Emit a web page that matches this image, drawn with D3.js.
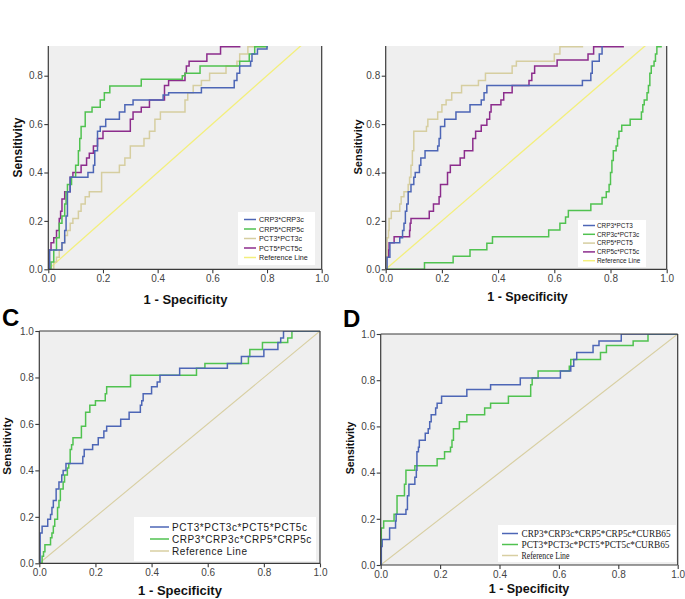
<!DOCTYPE html>
<html><head><meta charset="utf-8">
<script src="https://cdn.jsdelivr.net/npm/d3@7"></script>
<style>body{margin:0;background:#fff}svg{display:block}</style>
</head><body>
<svg id="chart" width="685" height="599"></svg>
<script>
// ---------- data ----------
const tickValues = [0, 0.2, 0.4, 0.6, 0.8, 1.0];
const refLine = [[0, 0], [1, 1]];

// Panel A
const aLabels = ["CRP3*CRP3c", "CRP5*CRP5c", "PCT3*PCT3c", "PCT5*PCT5c", "Reference Line"];
const aCRP3 = [[0,0],[0.005,0.08],[0.05,0.11],[0.06,0.16],[0.065,0.22],[0.07,0.32],[0.08,0.38],[0.145,0.40],[0.165,0.43],[0.17,0.49],[0.18,0.57],[0.19,0.59],[0.21,0.62],[0.26,0.65],[0.28,0.68],[0.31,0.70],[0.42,0.72],[0.44,0.73],[0.56,0.75],[0.68,0.78],[0.69,0.81],[0.70,0.84],[0.74,0.86],[0.745,0.89],[0.765,0.91],[0.8,0.93],[0.85,0.97],[0.9,1],[1,1]];
const aCRP5 = [[0,0],[0.01,0.03],[0.02,0.08],[0.03,0.13],[0.04,0.19],[0.05,0.22],[0.06,0.27],[0.065,0.32],[0.07,0.35],[0.085,0.38],[0.1,0.43],[0.11,0.49],[0.115,0.54],[0.12,0.59],[0.135,0.65],[0.16,0.67],[0.19,0.70],[0.205,0.73],[0.225,0.757],[0.34,0.785],[0.49,0.80],[0.5,0.81],[0.555,0.84],[0.7,0.86],[0.735,0.89],[0.755,0.92],[0.8,0.95],[0.9,1],[1,1]];
const aPCT3 = [[0,0],[0.02,0.03],[0.03,0.05],[0.04,0.08],[0.05,0.11],[0.06,0.14],[0.07,0.16],[0.08,0.19],[0.09,0.21],[0.11,0.24],[0.12,0.27],[0.135,0.30],[0.15,0.32],[0.195,0.40],[0.26,0.43],[0.28,0.46],[0.3,0.51],[0.35,0.54],[0.37,0.57],[0.39,0.62],[0.41,0.65],[0.5,0.70],[0.51,0.73],[0.53,0.76],[0.56,0.78],[0.59,0.81],[0.65,0.84],[0.69,0.86],[0.7,0.89],[0.73,0.92],[0.8,0.95],[0.9,1],[1,1]];
const aPCT5 = [[0,0],[0.003,0.08],[0.01,0.11],[0.02,0.13],[0.03,0.16],[0.04,0.21],[0.045,0.24],[0.05,0.29],[0.06,0.32],[0.08,0.38],[0.09,0.40],[0.12,0.43],[0.14,0.46],[0.15,0.48],[0.165,0.51],[0.18,0.54],[0.2,0.57],[0.3,0.62],[0.31,0.65],[0.34,0.67],[0.37,0.70],[0.425,0.76],[0.44,0.78],[0.5,0.81],[0.505,0.84],[0.515,0.86],[0.58,0.89],[0.63,0.92],[0.7,0.95],[0.8,1],[1,1]];

// Panel B
const bLabels = ["CRP3*PCT3", "CRP3c*PCT3c", "CRP5*PCT5", "CRP5c*PCT5c", "Reference Line"];
const bCRP3PCT3 = [[0,0],[0.005,0.05],[0.015,0.11],[0.05,0.13],[0.06,0.16],[0.065,0.19],[0.07,0.24],[0.075,0.27],[0.08,0.32],[0.09,0.35],[0.1,0.38],[0.105,0.40],[0.12,0.43],[0.125,0.46],[0.14,0.49],[0.185,0.51],[0.19,0.54],[0.195,0.59],[0.21,0.62],[0.25,0.65],[0.3,0.68],[0.34,0.70],[0.35,0.73],[0.36,0.76],[0.7,0.78],[0.73,0.81],[0.735,0.86],[0.76,0.89],[0.77,0.93],[0.85,1],[1,1]];
const bCRP3cPCT3c = [[0,0],[0.138,0.027],[0.24,0.054],[0.3,0.081],[0.36,0.108],[0.38,0.135],[0.58,0.162],[0.62,0.19],[0.64,0.216],[0.65,0.243],[0.73,0.27],[0.77,0.297],[0.785,0.32],[0.795,0.35],[0.8,0.40],[0.805,0.45],[0.81,0.49],[0.82,0.51],[0.825,0.54],[0.83,0.57],[0.84,0.595],[0.87,0.62],[0.91,0.65],[0.915,0.68],[0.92,0.70],[0.93,0.73],[0.935,0.76],[0.94,0.81],[0.945,0.84],[0.955,0.86],[0.96,0.89],[0.965,0.92],[0.98,0.97],[1,1]];
const bCRP5PCT5 = [[0,0],[0.002,0.05],[0.005,0.13],[0.01,0.16],[0.012,0.21],[0.02,0.24],[0.05,0.27],[0.055,0.30],[0.065,0.32],[0.08,0.35],[0.085,0.38],[0.09,0.43],[0.095,0.49],[0.1,0.57],[0.145,0.59],[0.15,0.62],[0.185,0.65],[0.2,0.68],[0.215,0.70],[0.235,0.73],[0.27,0.76],[0.33,0.78],[0.355,0.81],[0.45,0.84],[0.465,0.86],[0.6,0.89],[0.62,0.92],[0.7,0.96],[0.8,1],[1,1]];
const bCRP5cPCT5c = [[0,0],[0.002,0.05],[0.01,0.08],[0.012,0.11],[0.03,0.135],[0.085,0.16],[0.087,0.19],[0.09,0.21],[0.155,0.24],[0.17,0.27],[0.19,0.30],[0.195,0.35],[0.22,0.40],[0.23,0.43],[0.265,0.46],[0.28,0.49],[0.31,0.54],[0.32,0.57],[0.34,0.595],[0.36,0.62],[0.37,0.65],[0.375,0.68],[0.41,0.70],[0.42,0.73],[0.45,0.76],[0.51,0.78],[0.52,0.81],[0.53,0.84],[0.61,0.865],[0.72,0.89],[0.74,0.92],[0.845,0.95],[0.9,1],[1,1]];

// Panel C
const cLabels = ["PCT3*PCT3c*PCT5*PCT5c", "CRP3*CRP3c*CRP5*CRP5c", "Reference Line"];
const cPCT = [[0,0],[0.003,0.13],[0.01,0.16],[0.03,0.19],[0.04,0.21],[0.045,0.24],[0.05,0.27],[0.06,0.32],[0.07,0.35],[0.08,0.38],[0.085,0.40],[0.095,0.43],[0.155,0.46],[0.16,0.49],[0.19,0.51],[0.21,0.54],[0.23,0.57],[0.24,0.59],[0.29,0.62],[0.32,0.65],[0.36,0.68],[0.365,0.70],[0.37,0.73],[0.4,0.76],[0.42,0.78],[0.43,0.81],[0.5,0.84],[0.67,0.86],[0.72,0.89],[0.8,0.92],[0.85,0.95],[0.86,0.97],[0.87,1],[1,1]];
const cCRP = [[0,0],[0.01,0.03],[0.015,0.05],[0.02,0.08],[0.04,0.11],[0.045,0.13],[0.05,0.16],[0.055,0.19],[0.065,0.24],[0.07,0.27],[0.075,0.32],[0.085,0.35],[0.09,0.38],[0.1,0.41],[0.105,0.43],[0.11,0.49],[0.115,0.51],[0.12,0.54],[0.15,0.59],[0.165,0.65],[0.18,0.68],[0.2,0.70],[0.235,0.73],[0.24,0.76],[0.325,0.81],[0.56,0.84],[0.59,0.86],[0.745,0.89],[0.75,0.92],[0.795,0.95],[0.885,0.97],[0.9,1],[1,1]];

// Panel D
const dLabels = ["CRP3*CRP3c*CRP5*CRP5c*CURB65", "PCT3*PCT3c*PCT5*PCT5c*CURB65", "Reference Line"];
const dCRP = [[0,0],[0.002,0.08],[0.005,0.11],[0.03,0.16],[0.05,0.19],[0.052,0.22],[0.085,0.24],[0.09,0.30],[0.095,0.35],[0.115,0.38],[0.12,0.41],[0.122,0.49],[0.127,0.51],[0.13,0.54],[0.15,0.57],[0.16,0.59],[0.165,0.62],[0.17,0.65],[0.185,0.68],[0.19,0.70],[0.205,0.73],[0.29,0.76],[0.37,0.78],[0.47,0.81],[0.605,0.84],[0.64,0.86],[0.65,0.89],[0.66,0.92],[0.715,0.95],[0.735,0.97],[0.81,1],[1,1]];
const dPCT = [[0,0],[0.002,0.16],[0.01,0.19],[0.045,0.22],[0.055,0.30],[0.08,0.35],[0.085,0.41],[0.115,0.43],[0.19,0.46],[0.215,0.49],[0.235,0.51],[0.24,0.54],[0.245,0.59],[0.265,0.62],[0.29,0.65],[0.35,0.68],[0.37,0.70],[0.43,0.73],[0.505,0.78],[0.51,0.81],[0.53,0.84],[0.635,0.86],[0.64,0.89],[0.74,0.92],[0.76,0.95],[0.85,0.97],[0.9,1],[1,1]];

// ---------- styles ----------
const BLUE = "#4d66b6", GREEN = "#50c250", TAN = "#d6cea0", PURPLE = "#8c2c8c", YELLOW = "#f3ef7c", REFTAN = "#d8cfa2";
const SANS = "'Liberation Sans', Arial, sans-serif";
const SERIF = "'Liberation Serif', 'Times New Roman', serif";

const svg = d3.select("#chart");

const panels = [
  { id: "a", x0: 48.3, x1: 321.7, y0: 269.3, y1: 27.3, top: 46, cropped: true,
    series: [aCRP3, aCRP5, aPCT3, aPCT5, refLine], labels: aLabels,
    colors: [BLUE, GREEN, TAN, PURPLE, YELLOW], widths: [1.5,1.5,1.5,1.5,1.3],
    legend: { x: 238, y: 212, w: 77, h: 53, row0: 219.5, dy: 9.5, lx1: 244, lx2: 256, tx: 259, font: SANS, size: 7.2, ls: 0, tl: null },
    xt: { x: 185.5, y: 303.5, size: 13 }, yt: { x: 22, y: 147.5, size: 12 }, letter: null },
  { id: "b", x0: 385.7, x1: 666.7, y0: 269.3, y1: 27.3, top: 46, cropped: true,
    series: [bCRP3PCT3, bCRP3cPCT3c, bCRP5PCT5, bCRP5cPCT5c, refLine], labels: bLabels,
    colors: [BLUE, GREEN, TAN, PURPLE, YELLOW], widths: [1.5,1.5,1.5,1.5,1.3],
    legend: { x: 578, y: 220, w: 68, h: 47, row0: 225.5, dy: 8.8, lx1: 583, lx2: 595, tx: 597, font: SANS, size: 6.4, ls: 0, tl: null },
    xt: { x: 527.5, y: 300.5, size: 12.5 }, yt: { x: 362, y: 147, size: 11 }, letter: null },
  { id: "c", x0: 39.3, x1: 320, y0: 563.3, y1: 331, top: 331, cropped: false,
    series: [cPCT, cCRP, refLine], labels: cLabels,
    colors: [BLUE, GREEN, REFTAN], widths: [1.5,1.5,1.1],
    legend: { x: 134, y: 517, w: 182, h: 44, row0: 527, dy: 12, lx1: 150, lx2: 169, tx: 172, font: SANS, size: 10, ls: 0.55, tl: null, weight: 500 },
    xt: { x: 180, y: 594.5, size: 13 }, yt: { x: 11, y: 446, size: 11.5 }, letter: { t: "C", x: 2, y: 326 } },
  { id: "d", x0: 380.7, x1: 677.7, y0: 565, y1: 334, top: 334, cropped: false,
    series: [dCRP, dPCT, refLine], labels: dLabels,
    colors: [BLUE, GREEN, REFTAN], widths: [1.5,1.5,1.1],
    legend: { x: 498, y: 525, w: 178, h: 37, row0: 533.5, dy: 11, lx1: 502, lx2: 518, tx: 521.5, font: SERIF, size: 9.4, ls: 0, tl: [149, 148, 48] },
    xt: { x: 529, y: 593, size: 12.5 }, yt: { x: 354, y: 448, size: 10.5 }, letter: { t: "D", x: 343, y: 327 } }
];

panels.forEach(p => {
  const g = svg.append("g");
  const x = d3.scaleLinear().domain([0, 1]).range([p.x0, p.x1]);
  const y = d3.scaleLinear().domain([0, 1]).range([p.y0, p.y1]);

  g.append("rect").attr("x", p.x0).attr("y", p.top).attr("width", p.x1 - p.x0).attr("height", p.y0 - p.top)
    .attr("fill", "#efefef");

  g.append("clipPath").attr("id", "clip-" + p.id).append("rect")
    .attr("x", p.x0).attr("y", p.top).attr("width", p.x1 - p.x0).attr("height", p.y0 - p.top);

  const plot = g.append("g").attr("clip-path", `url(#clip-${p.id})`);
  const line = d3.line().x(d => x(d[0])).y(d => y(d[1])).curve(d3.curveStepAfter);
  const straight = d3.line().x(d => x(d[0])).y(d => y(d[1]));
  const refIdx = p.series.length - 1;
  plot.append("path").attr("d", straight(p.series[refIdx])).attr("fill", "none")
    .attr("stroke", p.colors[refIdx]).attr("stroke-width", p.widths[refIdx]);
  d3.range(refIdx).reverse().forEach(i => {
    plot.append("path").attr("d", line(p.series[i])).attr("fill", "none")
      .attr("stroke", p.colors[i]).attr("stroke-width", p.widths[i]).attr("stroke-linejoin", "miter");
  });

  const bc = "#3a3a3a";
  g.append("line").attr("x1", p.x1).attr("x2", p.x1).attr("y1", p.top).attr("y2", p.y0).attr("stroke", bc).attr("stroke-width", 1.2);
  g.append("line").attr("x1", p.x0).attr("x2", p.x0).attr("y1", p.top).attr("y2", p.y0).attr("stroke", bc).attr("stroke-width", 1.2);
  g.append("line").attr("x1", p.x0).attr("x2", p.x1).attr("y1", p.y0).attr("y2", p.y0).attr("stroke", bc).attr("stroke-width", 1.2);
  if (!p.cropped) {
    g.append("line").attr("x1", p.x0).attr("x2", p.x1).attr("y1", p.y1).attr("y2", p.y1).attr("stroke", bc).attr("stroke-width", 1.2);
  }

  const yTicks = tickValues.filter(t => y(t) >= p.top - 0.5);
  const xAxis = d3.axisBottom(x).tickValues(tickValues).tickFormat(d3.format(".1f")).tickSize(4).tickSizeOuter(0).tickPadding(2);
  const yAxis = d3.axisLeft(y).tickValues(yTicks).tickFormat(d3.format(".1f")).tickSize(4).tickSizeOuter(0).tickPadding(1.5);
  const gx = g.append("g").attr("transform", `translate(0,${p.y0})`).call(xAxis);
  const gy = g.append("g").attr("transform", `translate(${p.x0},0)`).call(yAxis);
  [gx, gy].forEach(a => {
    a.select(".domain").remove();
    a.selectAll(".tick line").attr("stroke", bc).attr("stroke-width", 1.1);
    a.selectAll(".tick text").attr("fill", "#444").style("font-family", SANS).style("font-size", "10px");
  });

  g.append("text").attr("x", p.xt.x).attr("y", p.xt.y).attr("text-anchor", "middle")
    .style("font-family", SANS).style("font-weight", "bold").style("font-size", p.xt.size + "px").attr("fill", "#111")
    .text("1 - Specificity");
  g.append("text").attr("transform", `translate(${p.yt.x},${p.yt.y}) rotate(-90)`).attr("text-anchor", "middle")
    .style("font-family", SANS).style("font-weight", "bold").style("font-size", p.yt.size + "px").attr("fill", "#111")
    .text("Sensitivity");

  if (p.letter) {
    g.append("text").attr("x", p.letter.x).attr("y", p.letter.y)
      .style("font-family", SANS).style("font-weight", "bold").style("font-size", "24px").attr("fill", "#000")
      .text(p.letter.t);
  }

  const L = p.legend;
  const lg = g.append("g");
  lg.append("rect").attr("x", L.x).attr("y", L.y).attr("width", L.w).attr("height", L.h).attr("fill", "#fff");
  p.labels.forEach((lab, i) => {
    const yy = L.row0 + i * L.dy;
    lg.append("line").attr("x1", L.lx1).attr("x2", L.lx2).attr("y1", yy).attr("y2", yy)
      .attr("stroke", p.colors[i]).attr("stroke-width", 1.5);
    const t = lg.append("text").attr("x", L.tx).attr("y", yy).attr("dy", "0.35em")
      .style("font-family", L.font).style("font-size", L.size + "px").attr("fill", "#1a1a1a")
      .style("letter-spacing", L.ls + "px").style("font-weight", L.weight || "normal")
      .text(lab);
    if (L.tl) t.attr("textLength", L.tl[i]).attr("lengthAdjust", "spacingAndGlyphs");
  });
});
</script>
</body></html>
